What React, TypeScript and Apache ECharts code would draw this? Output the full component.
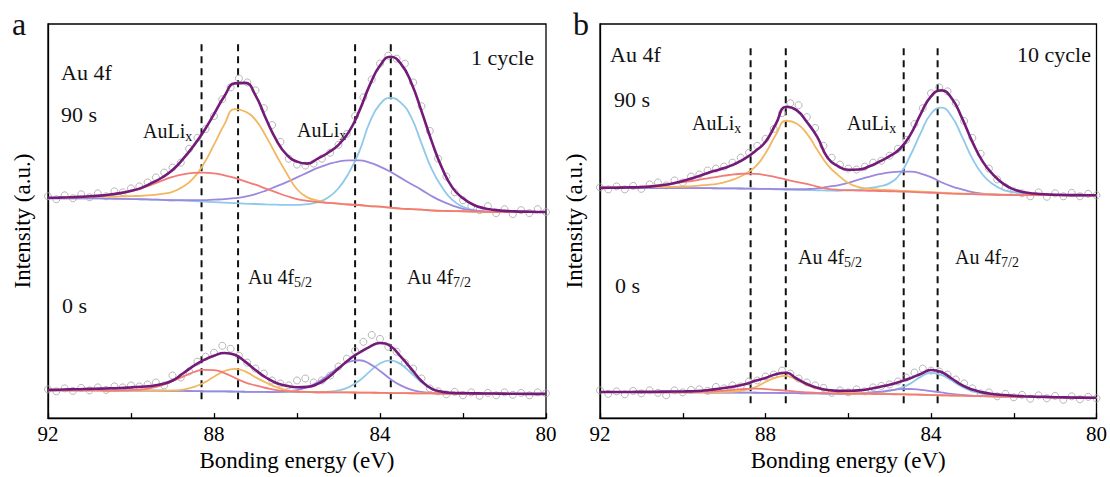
import React, { useEffect, useRef } from "react";
import * as echarts from "echarts";

const SERIF = '"Liberation Serif", "Times New Roman", serif';

// binding energy sampling of the fitted curves (eV)
const energy = [92, 91.75, 91.5, 91.25, 91, 90.75, 90.5, 90.25, 90, 89.75, 89.5, 89.25, 89, 88.75, 88.5, 88.25, 88, 87.75, 87.5, 87.25, 87, 86.75, 86.5, 86.25, 86, 85.75, 85.5, 85.25, 85, 84.75, 84.5, 84.25, 84, 83.75, 83.5, 83.25, 83, 82.75, 82.5, 82.25, 82, 81.75, 81.5, 81.25, 81, 80.75, 80.5, 80.25, 80];
// binding energy of measured points (eV)
const scatterEnergy = [92, 91.8, 91.6, 91.4, 91.2, 91, 90.8, 90.6, 90.4, 90.2, 90, 89.8, 89.6, 89.4, 89.2, 89, 88.8, 88.6, 88.4, 88.2, 88, 87.8, 87.6, 87.4, 87.2, 87, 86.8, 86.6, 86.4, 86.2, 86, 85.8, 85.6, 85.4, 85.2, 85, 84.8, 84.6, 84.4, 84.2, 84, 83.8, 83.6, 83.4, 83.2, 83, 82.8, 82.6, 82.4, 82.2, 82, 81.8, 81.6, 81.4, 81.2, 81, 80.8, 80.6, 80.4, 80.2, 80];

// ---------- panel a (1 cycle) : 90 s ----------
const a90Bg = [222, 222, 222, 222, 222, 221.8, 221.6, 221.4, 221.2, 221, 220.7, 220.4, 220, 219.6, 219.1, 218.6, 218.1, 217.6, 217.1, 216.6, 216.2, 215.8, 215.5, 215.3, 215.1, 214.9, 214.7, 214.4, 214.1, 213.7, 213.2, 212.6, 212, 211.3, 210.6, 210, 209.5, 209.1, 208.8, 208.6, 208.4, 208.3, 208.2, 208.1, 208, 208, 208, 208, 208];
const a90F52 = [0, 0.5, 1, 1, 1.5, 2, 2, 2.5, 3, 3.5, 4.5, 6, 8.5, 14, 23, 38, 58, 79, 95, 93, 85, 69, 50, 32, 16, 8, 5, 3, 2.5, 2, 2, 1.5, 1.5, 1, 1, 1, 1, 0.5, 0.5, 0.5, 0.5, 0, 0, 0, 0, 0, 0, 0, 0];
const a90Li1 = [0.5, 0.7, 1, 1.5, 2, 2.5, 4, 6, 8, 11, 15, 19.5, 23.5, 26.5, 28.5, 29.4, 29, 27.5, 25.5, 22.5, 19.5, 16, 12.5, 9, 6, 4.5, 3.5, 3, 2.5, 2, 2, 1.5, 1.5, 1.2, 1, 1, 1, 0.7, 0.5, 0.5, 0.5, 0.3, 0.2, 0, 0, 0, 0, 0, 0];
const a90Li2 = [0, 0, 0, 0, 0, 0, 0, 0, 0, 0, 0, 0, 0, 0.5, 1, 1.5, 2.5, 3.5, 5, 7, 10, 14, 18.5, 23, 28, 33, 38, 42, 45, 46.5, 47, 45.5, 42, 37.5, 32, 26.5, 21, 15, 10, 6, 3, 1.5, 0.5, 0, 0, 0, 0, 0, 0];
const a90F72 = [0, 0, 0, 0, 0, 0, 0, 0, 0, 0, 0, 0, 0, 0, 0, 0, 0, 0, 0, 0, 0, 0, 0, 0, 0.3, 1.2, 3.4, 8.3, 18, 34, 56, 86, 105, 112, 108, 94, 68, 42, 24, 11.5, 5, 1.8, 0.6, 0, 0, 0, 0, 0, 0];
const a90Fit = [222.5, 222.7, 223, 223.4, 224, 224.7, 225.8, 227.2, 229.5, 232.5, 237.5, 243, 250.5, 261.5, 274.5, 289.5, 307, 325, 338, 338.5, 326, 302.5, 281, 266, 259, 257, 262, 268, 276, 289, 310, 336, 356, 365, 358, 339, 310, 279, 252, 232.5, 222, 215.5, 212, 210.3, 209.3, 208.8, 208.5, 208.3, 208.2];
const a90Data = [224, 221, 225, 222, 226, 223, 227, 224, 229, 228, 232, 234, 238, 243, 248, 253, 258, 272, 283, 292, 305, 322, 334, 343, 339, 331, 313, 296, 279, 262, 256, 255, 257, 262, 268, 276, 287, 305, 324, 342, 358, 366, 363, 358, 339, 315, 290, 262, 244, 228, 220, 214, 210, 214, 207, 211, 206, 210, 207, 211, 208];

// ---------- panel a (1 cycle) : 0 s ----------
const a0Bg = [28, 28, 28, 27.9, 27.9, 27.9, 27.8, 27.8, 27.8, 27.7, 27.7, 27.6, 27.5, 27.4, 27.3, 27.1, 27, 26.9, 26.8, 26.6, 26.5, 26.4, 26.3, 26.3, 26.2, 26.2, 26.1, 26.1, 26, 25.9, 25.8, 25.7, 25.5, 25.3, 25.2, 25.1, 25, 24.9, 24.8, 24.7, 24.7, 24.6, 24.6, 24.6, 24.5, 24.5, 24.5, 24.5, 24.5];
const a0F52 = [0, 0, 0, 0, 0, 0, 0, 0, 0, 0, 0, 0, 0.4, 1.4, 3.9, 8.5, 14.7, 20.6, 23, 20.6, 14.7, 9.5, 5, 2, 0.8, 0.3, 0, 0, 0, 0, 0, 0, 0, 0, 0, 0, 0, 0, 0, 0, 0, 0, 0, 0, 0, 0, 0, 0, 0];
const a0Li1 = [0, 0, 0, 0, 0, 0, 0, 0.2, 0.5, 1.2, 2.8, 5.6, 9.7, 14.5, 19, 21.7, 21.5, 18.6, 14, 9.5, 6.5, 4, 2, 1, 0.4, 0.2, 0, 0, 0, 0, 0, 0, 0, 0, 0, 0, 0, 0, 0, 0, 0, 0, 0, 0, 0, 0, 0, 0, 0];
const a0Li2 = [0, 0, 0, 0, 0, 0, 0, 0, 0, 0, 0, 0, 0, 0, 0, 0, 0, 0, 0, 0, 0, 0, 0, 0.8, 2.1, 5, 10.1, 17.3, 25.1, 31, 32.6, 29.1, 22.1, 14.2, 7.8, 3.6, 1.4, 0.5, 0, 0, 0, 0, 0, 0, 0, 0, 0, 0, 0];
const a0F72 = [0, 0, 0, 0, 0, 0, 0, 0, 0, 0, 0, 0, 0, 0, 0, 0, 0, 0, 0, 0, 0, 0, 0, 0, 0, 0, 0, 0.5, 1.9, 5.4, 12, 21.2, 29.7, 33, 29.1, 20.4, 11.3, 5, 1.8, 0.5, 0, 0, 0, 0, 0, 0, 0, 0, 0];
const a0Fit = [28.5, 28.7, 29, 29.2, 29.5, 29.8, 30.1, 30.4, 31, 31.7, 32.5, 34.5, 38, 45, 52.5, 58.5, 63, 65.8, 64, 57, 48.5, 41, 35.5, 32.7, 31.2, 31.5, 34.5, 41, 50, 59, 66, 72, 75.8, 72.8, 62, 50, 37.5, 29.5, 26.5, 25.5, 25.2, 25, 24.9, 24.8, 24.7, 24.6, 24.5, 24.5, 24.5];
const a0Data = [29, 27, 30, 27.5, 30.5, 28, 31, 28.5, 32, 31, 33, 32, 34, 36, 33, 43, 41, 47, 57, 62, 66, 73, 70, 63, 56, 50, 45, 38, 35, 33, 38, 40, 36, 38, 43, 52, 60, 68, 77, 84, 80, 72, 67, 56, 50, 40, 30, 27, 24, 26.5, 23, 26, 22.5, 25.5, 23, 26, 23.5, 25.5, 23, 26, 25];

// ---------- panel b (10 cycle) : 90 s ----------
const b90Bg = [232.5, 232.5, 232.5, 232.5, 232.5, 232.4, 232.4, 232.3, 232.3, 232.2, 232.2, 232.1, 232, 231.9, 231.8, 231.6, 231.4, 231.1, 230.8, 230.5, 230.3, 230, 229.8, 229.6, 229.5, 229.3, 229.2, 229, 228.8, 228.5, 228.2, 227.8, 227.4, 227, 226.6, 226.3, 226, 225.8, 225.6, 225.4, 225.3, 225.2, 225.2, 225.1, 225.1, 225, 225, 225, 225];
const b90F52 = [0.3, 0.4, 0.5, 0.6, 0.8, 0.9, 1, 1.2, 1.5, 2, 3, 4, 6, 9.5, 14.5, 22, 36, 55, 69.5, 67, 57, 41, 26, 16, 8, 4, 2.5, 1.8, 1.5, 1.2, 1, 0.9, 0.8, 0.7, 0.6, 0.5, 0.5, 0.4, 0.4, 0.3, 0.3, 0.2, 0.2, 0.1, 0.1, 0, 0, 0, 0];
const b90Li1 = [0.3, 0.5, 0.7, 1, 1.3, 2, 3, 4.5, 6, 7.5, 9.3, 11, 12.8, 14.2, 15.1, 15, 14, 12.2, 10, 8, 6.3, 3.8, 1.8, 0.9, 0.6, 0.5, 0.4, 0.35, 0.3, 0.3, 0.25, 0.2, 0.2, 0.15, 0.1, 0.1, 0.1, 0, 0, 0, 0, 0, 0, 0, 0, 0, 0, 0, 0];
const b90Li2 = [0, 0, 0, 0, 0, 0, 0, 0, 0, 0, 0, 0, 0, 0, 0, 0, 0.1, 0.2, 0.3, 0.6, 1, 2, 3.8, 5.5, 8, 11.5, 14.5, 17.3, 19.3, 20.5, 20.7, 19.2, 16, 11.2, 7.5, 4.7, 2.2, 0.8, 0.2, 0, 0, 0, 0, 0, 0, 0, 0, 0, 0];
const b90F72 = [0, 0, 0, 0, 0, 0, 0, 0, 0, 0, 0, 0, 0, 0, 0, 0, 0, 0, 0, 0, 0, 0, 0, 0, 0.8, 1.5, 3, 5, 8.5, 18, 37, 60, 80, 86.5, 78, 58, 36, 20, 10.5, 5, 3, 1.5, 1, 0.5, 0.3, 0, 0, 0, 0];
const b90Fit = [232.5, 232.6, 232.8, 233, 233.2, 234, 235.2, 237, 239.5, 242.5, 246, 249.5, 252.5, 256.5, 262, 269.5, 279, 297, 314.5, 311, 299, 284, 263, 254.5, 250.8, 251, 254, 259, 264.5, 272, 286, 307, 325, 331, 323, 303, 279, 259, 246, 236.5, 231, 228, 226.8, 226, 225.6, 225.3, 225.2, 225.1, 225];
const b90Data = [233, 231, 234, 231, 234.5, 231.5, 236, 238, 235, 240, 238, 244, 246, 250, 252, 254, 258, 263, 268, 275, 282, 292, 308, 318, 316, 304, 293, 275, 263, 256, 252, 251, 254, 258, 260, 265, 272, 281, 297, 313, 328, 334, 330, 318, 300, 283, 267, 252, 241, 233, 229, 227, 224, 228, 223.5, 227, 224, 227.5, 224, 226.5, 225];

// ---------- panel b (10 cycle) : 0 s ----------
const b0Bg = [26.3, 26.3, 26.2, 26.2, 26.1, 26.1, 26, 26, 26, 25.9, 25.9, 25.8, 25.8, 25.7, 25.7, 25.6, 25.5, 25.4, 25.3, 25.2, 25, 24.9, 24.8, 24.7, 24.6, 24.5, 24.4, 24.3, 24.2, 24, 23.8, 23.6, 23.3, 23.1, 22.8, 22.6, 22.3, 22.1, 21.9, 21.7, 21.5, 21.4, 21.2, 21.1, 21, 20.8, 20.7, 20.6, 20.5];
const b0F52 = [0, 0, 0, 0, 0, 0, 0, 0, 0, 0, 0, 0, 0.5, 1, 2.5, 5.5, 11, 15.5, 17.4, 13.5, 8.5, 5, 3, 1.8, 1, 0.7, 0.5, 0.4, 0.3, 0.2, 0.2, 0.1, 0, 0, 0, 0, 0, 0, 0, 0, 0, 0, 0, 0, 0, 0, 0, 0, 0];
const b0Li1 = [0, 0, 0, 0, 0, 0, 0.1, 0.2, 0.3, 0.5, 0.8, 1.3, 2, 2.9, 3.7, 4.1, 3.8, 3.1, 2.4, 1.6, 1, 0.5, 0.3, 0.15, 0, 0, 0, 0, 0, 0, 0, 0, 0, 0, 0, 0, 0, 0, 0, 0, 0, 0, 0, 0, 0, 0, 0, 0, 0];
const b0Li2 = [0, 0, 0, 0, 0, 0, 0, 0, 0, 0, 0, 0, 0, 0, 0, 0, 0, 0, 0, 0, 0, 0, 0, 0, 0.3, 0.7, 1.3, 2.3, 3.7, 5.2, 5.6, 5, 4, 2.8, 1.7, 0.9, 0.4, 0.2, 0, 0, 0, 0, 0, 0, 0, 0, 0, 0, 0];
const b0F72 = [0, 0, 0, 0, 0, 0, 0, 0, 0, 0, 0, 0, 0, 0, 0, 0, 0, 0, 0, 0, 0, 0, 0, 0, 0.3, 0.6, 1.1, 2, 3.3, 6.2, 11, 18, 22.3, 20.5, 15.3, 9, 4.8, 2.5, 1.4, 0.8, 0.5, 0.3, 0.2, 0, 0, 0, 0, 0, 0];
const b0Fit = [26.3, 26.3, 26.3, 26.4, 26.5, 26.6, 26.7, 26.8, 26.9, 27.1, 27.8, 29, 30.4, 32, 34.3, 37.6, 40.5, 44.3, 45.8, 40, 34.5, 30.7, 28.3, 27.5, 27.6, 28, 29.3, 31.5, 33.7, 36.8, 40.3, 44.6, 48.6, 46.5, 40, 33.3, 28.8, 26, 24.3, 23.3, 22.6, 22.1, 21.7, 21.4, 21.1, 20.9, 20.7, 20.6, 20.5];
const b0Data = [28, 24.5, 27, 24, 27.5, 25, 28, 25.5, 23, 28, 26, 28.5, 29, 27.5, 31.5, 30, 33, 32, 37, 38, 42, 44, 48, 45, 40, 36, 33, 30.5, 25.5, 28, 26, 29, 27, 31, 32.5, 34, 37, 41, 46, 50, 48, 47, 44, 39, 35, 30, 25, 26, 22, 24.5, 21, 23.5, 19.5, 23, 20, 22.5, 18.5, 22, 19, 21.5, 20];

// dashed reference lines (eV) and their vertical extent
const dashA = [88.3, 87.42, 84.6, 83.74];
const dashB = [88.36, 87.51, 84.66, 83.84];
const dashSpanA = [19, 382];
const dashSpanB = [15, 377];

const xTicks = [92, 88, 84, 80];

const C = {
  fit: "#741b7a",
  f52: "#f3b760",
  li1: "#f27b78",
  li2: "#9d88e0",
  f72: "#8fc9ea",
  dot: "#a5a5a5",
};

function pairs(xs: number[], ys: number[]) {
  return xs.map((x, i) => [x, ys[i]]);
}
function comp(bg: number[], h: number[]) {
  return energy.map((e, i) => [e, bg[i] + h[i]]);
}

function lineSeries(gi: number, data: number[][], color: string, width: number, z: number) {
  return {
    type: "line",
    xAxisIndex: gi,
    yAxisIndex: gi,
    data,
    smooth: true,
    showSymbol: false,
    symbol: "none",
    lineStyle: { color, width },
    z,
    silent: true,
  };
}

function spectrumSeries(gi: number, bg: number[], f52: number[], li1: number[], li2: number[], f72: number[], fit: number[], dat: number[]) {
  return [
    {
      type: "scatter",
      xAxisIndex: gi,
      yAxisIndex: gi,
      data: pairs(scatterEnergy, dat),
      symbol: "circle",
      symbolSize: 7,
      itemStyle: { color: "rgba(255,255,255,0)", borderColor: C.dot, borderWidth: 1 },
      z: 2,
      silent: true,
    },
    lineSeries(gi, comp(bg, f72), C.f72, 1.8, 3),
    lineSeries(gi, comp(bg, li2), C.li2, 1.8, 4),
    lineSeries(gi, comp(bg, f52), C.f52, 1.8, 5),
    lineSeries(gi, comp(bg, li1), C.li1, 1.8, 6),
    lineSeries(gi, pairs(energy, fit), C.fit, 2.6, 7),
  ];
}

function dashSeries(gi: number, xs: number[], span: number[]) {
  return xs.map((x) => ({
    type: "line",
    xAxisIndex: gi,
    yAxisIndex: gi,
    data: [[x, span[0]], [x, span[1]]],
    showSymbol: false,
    symbol: "none",
    lineStyle: { color: "#111", width: 2, type: [7, 5] },
    z: 1,
    silent: true,
  }));
}

function xAxis(gi: number) {
  return {
    gridIndex: gi,
    type: "value",
    min: 80,
    max: 92,
    interval: 2,
    inverse: true,
    axisLine: { show: true, lineStyle: { color: "#000", width: 1.3 } },
    axisTick: { show: true, inside: true, length: 5, lineStyle: { color: "#000", width: 1.3 } },
    axisLabel: {
      color: "#000",
      fontSize: 21,
      fontFamily: SERIF,
      margin: 5,
      formatter: (v: number) => (xTicks.indexOf(v) >= 0 ? String(v) : ""),
    },
    splitLine: { show: false },
    name: "Bonding energy (eV)",
    nameLocation: "middle",
    nameGap: 28,
    nameTextStyle: { color: "#000", fontSize: 23, fontFamily: SERIF },
  };
}

function yAxis(gi: number) {
  return {
    gridIndex: gi,
    type: "value",
    min: 0,
    max: 398,
    axisLine: { show: true, lineStyle: { color: "#000", width: 1.3 } },
    axisTick: { show: false },
    axisLabel: { show: false },
    splitLine: { show: false },
    name: "Intensity (a.u.)",
    nameLocation: "middle",
    nameGap: 14,
    nameRotate: 90,
    nameTextStyle: { color: "#000", fontSize: 23, fontFamily: SERIF },
  };
}

function txt(x: number, y: number, text: string, size: number, align = "left") {
  return {
    type: "text",
    x,
    y,
    silent: true,
    style: { text, fill: "#111", fontSize: size, fontFamily: SERIF, align, verticalAlign: "middle" },
  };
}
function subTxt(x: number, y: number, main: string, sub: string) {
  return {
    type: "text",
    x,
    y,
    silent: true,
    style: {
      text: "{m|" + main + "}{s|" + sub + "}",
      fill: "#111",
      align: "left",
      verticalAlign: "middle",
      rich: {
        m: { fontSize: 20, fontFamily: SERIF, fill: "#111", verticalAlign: "bottom" },
        s: { fontSize: 14, fontFamily: SERIF, fill: "#111", verticalAlign: "bottom", padding: [0, 0, -2, 0] },
      },
    },
  };
}

export default function App() {
  const ref = useRef<HTMLDivElement>(null);
  useEffect(() => {
    if (!ref.current) return;
    const chart = echarts.init(ref.current, null, { renderer: "svg" });
    const option = {
      animation: false,
      backgroundColor: "#fff",
      grid: [
        { left: 48, top: 24, width: 498, height: 398, show: true, borderColor: "#000", borderWidth: 1.3, backgroundColor: "transparent" },
        { left: 600, top: 24, width: 500, height: 398, show: true, borderColor: "#000", borderWidth: 1.3, backgroundColor: "transparent" },
      ],
      xAxis: [xAxis(0), xAxis(1)],
      yAxis: [yAxis(0), yAxis(1)],
      series: [
        ...dashSeries(0, dashA, dashSpanA),
        ...dashSeries(1, dashB, dashSpanB),
        ...spectrumSeries(0, a90Bg, a90F52, a90Li1, a90Li2, a90F72, a90Fit, a90Data),
        ...spectrumSeries(0, a0Bg, a0F52, a0Li1, a0Li2, a0F72, a0Fit, a0Data),
        ...spectrumSeries(1, b90Bg, b90F52, b90Li1, b90Li2, b90F72, b90Fit, b90Data),
        ...spectrumSeries(1, b0Bg, b0F52, b0Li1, b0Li2, b0F72, b0Fit, b0Data),
      ],
      graphic: [
        txt(12, 24, "a", 32),
        txt(573, 24, "b", 32),
        txt(471, 57, "1 cycle", 22),
        txt(61, 72, "Au 4f", 22),
        txt(61, 114, "90 s", 22),
        subTxt(143, 131, "AuLi", "x"),
        subTxt(297, 130, "AuLi", "x"),
        subTxt(248, 277, "Au 4f", "5/2"),
        subTxt(407, 277, "Au 4f", "7/2"),
        txt(62, 305, "0 s", 22),
        txt(1091, 54, "10 cycle", 22, "right"),
        txt(610, 54, "Au 4f", 22),
        txt(614, 99, "90 s", 22),
        subTxt(692, 123, "AuLi", "x"),
        subTxt(847, 123, "AuLi", "x"),
        subTxt(798, 257, "Au 4f", "5/2"),
        subTxt(955, 257, "Au 4f", "7/2"),
        txt(615, 285, "0 s", 22),
      ],
    };
    chart.setOption(option as any);
    return () => chart.dispose();
  }, []);
  return <div ref={ref} style={{ position: "fixed", left: 0, top: 0, width: 1110, height: 477, background: "#fff" }} />;
}
